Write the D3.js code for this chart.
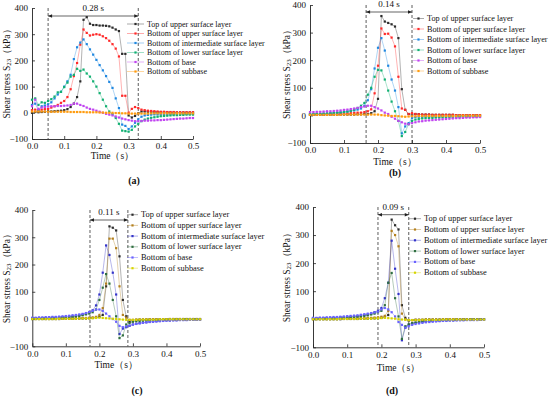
<!DOCTYPE html>
<html>
<head>
<meta charset="utf-8">
<script src="https://cdn.jsdelivr.net/npm/d3@7"></script>
<style>
  body { margin: 0; background: #fff; }
  svg { display: block; font-family: "Liberation Serif", "Times New Roman", serif; }
</style>
</head>
<body>
<svg width="550" height="398"></svg>
<script>
// time axis (s)
const times = [0.00,0.01,0.02,0.03,0.04,0.05,0.06,0.07,0.08,0.09,
  0.10,0.11,0.12,0.13,0.14,0.15,0.16,0.17,0.18,0.19,
  0.20,0.21,0.22,0.23,0.24,0.25,0.26,0.27,0.28,0.29,
  0.30,0.31,0.32,0.33,0.34,0.35,0.36,0.37,0.38,0.39,
  0.40,0.41,0.42,0.43,0.44,0.45,0.46,0.47,0.48,0.49,0.50];

const seriesNames = ["Top of upper surface layer", "Bottom of upper surface layer",
  "Bottom of intermediate surface layer", "Bottom of lower surface layer",
  "Bottom of base", "Bottom of subbase"];

const colorsAB = ["#2b2b2b", "#ff2a2a", "#2088e0", "#12b072", "#c044f0", "#ff9c10"];
const colorsCD = ["#2b2b2b", "#b4801e", "#3434c8", "#2f6e40", "#6a62ff", "#d6d400"];

const yTicks = [-100, 0, 100, 200, 300, 400];
const xTicks = [0, 0.1, 0.2, 0.3, 0.4, 0.5];

// panel (a)
const aTop = [0,3,2,3,4,5,5,6,7,8,10,14,22,35,60,120,355,365,340,335,335,333,333,332,330,325,318,312,225,225,-10,-18,-12,-2,5,5,4,3,3,2,2,2,2,1,1,1,1,1,1,1,1];
const aUpper = [10,12,10,12,14,15,20,25,30,38,45,60,90,140,190,260,318,305,295,298,300,298,292,285,275,262,245,215,65,65,0,15,22,18,12,10,8,7,6,5,4,4,3,3,3,2,2,2,2,2,2];
const aInter = [30,35,10,25,28,32,40,55,70,80,100,120,145,205,250,268,280,262,242,222,202,182,162,140,118,95,55,18,-45,-50,-62,-52,-38,-25,-15,-10,-8,-7,-6,-6,-5,-5,-5,-5,-5,-4,-4,-4,-4,-4,-4];
const aLower = [50,55,30,40,38,45,52,62,78,80,98,115,138,145,168,160,165,150,138,120,100,75,50,25,5,-5,-20,-42,-68,-70,-72,-65,-52,-42,-32,-26,-22,-19,-17,-15,-13,-12,-11,-10,-9,-9,-8,-8,-7,-7,-7];
const aBase = [25,50,15,20,22,24,25,25,26,26,27,28,30,35,35,30,26,20,15,12,8,4,0,-4,-7,-10,-14,-18,-22,-25,-28,-30,-32,-32,-31,-30,-30,-29,-29,-28,-28,-27,-26,-25,-24,-23,-22,-22,-21,-20,-20];
const aSub = [5,5,5,5,5,4,4,4,4,4,4,4,3,3,3,3,3,2,2,2,2,1,1,0,0,0,-1,-1,-2,-2,-3,-3,-3,-3,-3,-3,-3,-2,-2,-2,-2,-2,-2,-2,-2,-2,-2,-2,-2,-2,-2];
const aSpan = [0.05, 0.33];

// panel (b)
const bTop = [2,2,2,2,2,2,2,2,2,3,3,3,3,3,4,4,5,5,8,15,60,360,340,335,330,322,280,95,20,5,0,5,4,3,3,3,2,2,2,2,2,2,2,1,1,1,1,1,1,1,1];
const bUpper = [3,3,4,4,4,5,5,5,6,6,7,7,8,9,10,10,12,15,22,80,180,315,295,296,282,250,140,25,20,5,8,5,4,3,3,3,2,2,2,2,2,2,2,1,1,1,1,1,1,1,1];
const bInter = [5,5,6,6,7,7,8,9,10,11,12,14,16,18,21,25,35,55,95,170,245,280,235,180,130,90,30,-65,-40,-28,-10,-6,-5,-5,-4,-4,-4,-4,-3,-3,-3,-3,-3,-3,-3,-3,-3,-3,-3,-3,-3];
const bLower = [4,4,5,5,6,7,8,9,10,11,12,14,17,21,27,35,45,75,100,140,165,163,130,90,50,15,-20,-75,-60,-32,-20,-15,-13,-11,-10,-9,-9,-8,-8,-7,-7,-6,-6,-6,-5,-5,-5,-4,-4,-4,-4];
const bBase = [12,12,13,13,14,15,15,16,17,18,20,21,23,25,27,30,32,35,35,30,25,18,10,5,-5,-12,-20,-25,-30,-32,-28,-25,-22,-21,-19,-18,-17,-16,-15,-14,-13,-12,-11,-10,-10,-9,-8,-8,-7,-7,-6];
const bSub = [2,2,2,2,2,2,2,2,2,2,3,3,3,3,3,3,3,3,3,3,3,1,0,-1,-2,-2,-3,-4,-5,-4,-3,-3,-2,-2,-2,-2,-2,-2,-2,-2,-2,-2,-2,-2,-1,-1,-1,-1,-1,-1,-1];
const bSpan = [0.165, 0.30];

// panel (c)
const cTop = [0,0,0,0,0,0,0,0,0,1,1,1,1,1,2,2,2,3,4,5,8,15,120,340,335,325,230,70,10,-10,-5,-3,-2,-2,-2,-1,-1,-1,-1,-1,-1,0,0,0,0,0,0,0,0,0,0];
const cUpper = [1,1,1,1,1,1,1,2,2,2,2,2,3,3,3,4,4,5,6,8,15,40,130,295,295,260,120,15,5,-3,-3,-2,-2,-2,-1,-1,-1,-1,-1,-1,-1,0,0,0,0,0,0,0,0,0,0];
const cInter = [3,3,4,4,4,5,5,6,7,7,8,9,10,12,14,17,20,25,32,50,90,170,270,235,170,90,-55,-35,-30,-25,-20,-17,-15,-13,-12,-10,-9,-8,-7,-6,-5,-5,-4,-4,-3,-3,-3,-2,-2,-2,-2];
const cLower = [2,2,2,3,3,3,4,4,5,5,6,7,8,9,11,14,17,20,25,35,70,115,165,130,70,10,-70,-60,-20,-15,-10,-8,-7,-6,-5,-5,-4,-4,-3,-3,-3,-2,-2,-2,-2,-1,-1,-1,-1,-1,-1];
const cBase = [5,5,6,6,7,7,8,8,9,10,11,12,14,15,17,19,22,26,30,35,35,30,20,10,0,-10,-25,-30,-27,-24,-20,-18,-16,-14,-12,-11,-10,-9,-8,-7,-6,-6,-5,-5,-4,-4,-4,-3,-3,-3,-3];
const cSub = [0,0,0,0,0,0,0,0,1,1,1,1,1,1,2,2,2,2,3,4,5,4,3,2,1,0,-1,-2,-3,-3,-3,-3,-2,-2,-2,-2,-2,-2,-1,-1,-1,-1,-1,-1,-1,-1,-1,-1,-1,-1,-1];
const cSpan = [0.172, 0.285];

// panel (d)
const dTop = [0,0,0,0,0,0,0,0,0,1,1,1,1,1,2,2,2,3,3,4,5,8,15,355,335,320,50,5,-5,-3,-2,-2,-2,-1,-1,-1,-1,-1,0,0,0,0,0,0,0,0,0,0,0,0,0];
const dUpper = [1,1,1,1,1,1,2,2,2,2,2,3,3,3,4,4,5,5,6,7,9,12,30,315,300,260,20,0,-3,-3,-2,-2,-2,-1,-1,-1,-1,-1,-1,0,0,0,0,0,0,0,0,0,0,0,0];
const dInter = [3,3,4,4,4,5,5,6,7,7,8,9,10,11,13,15,17,20,25,30,40,75,130,280,180,90,-75,-30,-20,-15,-12,-10,-9,-8,-7,-6,-5,-5,-4,-4,-3,-3,-3,-2,-2,-2,-2,-1,-1,-1,-1];
const dLower = [2,2,2,3,3,3,4,4,5,5,6,7,8,9,10,12,14,17,20,25,30,50,130,165,75,10,-70,-25,-18,-14,-12,-10,-8,-7,-6,-5,-5,-4,-4,-3,-3,-3,-2,-2,-2,-2,-1,-1,-1,-1,-1];
const dBase = [5,5,6,6,7,7,8,8,9,10,11,12,13,14,16,18,20,22,24,27,35,40,35,25,10,-10,-20,-30,-25,-20,-17,-15,-13,-11,-10,-9,-8,-7,-6,-6,-5,-5,-4,-4,-4,-3,-3,-3,-3,-2,-2];
const dSub = [0,0,0,0,0,0,0,0,1,1,1,1,1,1,2,2,2,2,3,3,4,5,4,3,2,0,-1,-2,-3,-3,-3,-3,-2,-2,-2,-2,-2,-2,-1,-1,-1,-1,-1,-1,-1,-1,-1,-1,-1,-1,-1];
const dSpan = [0.19, 0.28];

let svg = d3.select("svg");

// layout of the four panels (pixel boxes)
var panels = [
  {tag: "(a)", series: [aTop, aUpper, aInter, aLower, aBase, aSub], colors: colorsAB,
   span: aSpan, spanText: "0.28 s", l: 32, r: 193, t: 8, b: 139,
   arrowY: 16, lgX: 127, lgW: 17, lgY: 24, lgDy: 9.5, lgFs: 8,
   yLabX: 7, tagX: 134, tagY: 180, timeY: 156},
  {tag: "(b)", series: [bTop, bUpper, bInter, bLower, bBase, bSub], colors: colorsAB,
   span: bSpan, spanText: "0.14 s", l: 310, r: 480, t: 5, b: 143,
   arrowY: 12, lgX: 413, lgW: 11, lgY: 18.5, lgDy: 10.5, lgFs: 8.2,
   yLabX: 287, tagX: 395, tagY: 172, timeY: 162},
  {tag: "(c)", series: [cTop, cUpper, cInter, cLower, cBase, cSub], colors: colorsCD,
   span: cSpan, spanText: "0.11 s", l: 32.3, r: 200, t: 210, b: 346.3,
   arrowY: 220, lgX: 127, lgW: 11, lgY: 214.7, lgDy: 10.7, lgFs: 8.4,
   yLabX: 7, tagX: 137, tagY: 390, timeY: 365},
  {tag: "(d)", series: [dTop, dUpper, dInter, dLower, dBase, dSub], colors: colorsCD,
   span: dSpan, spanText: "0.09 s", l: 313, r: 484, t: 207, b: 347.3,
   arrowY: 214.7, lgX: 409, lgW: 12, lgY: 218.7, lgDy: 10.8, lgFs: 8.4,
   yLabX: 287, tagX: 392, tagY: 390, timeY: 368}
];

panels.forEach(function(p){
  let g = svg.append("g");

  var x = d3.scaleLinear().domain([0, 0.5]).range([p.l, p.r]);
  var y = d3.scaleLinear().domain([-100, 400]).range([p.b, p.t]);

  // axes (inward ticks)
  let xAxis = g.append("g")
    .attr("transform", "translate(0," + p.b + ")")
    .call(d3.axisBottom(x).tickValues(xTicks).tickFormat(d3.format(".1f"))
      .tickSizeInner(-3).tickSizeOuter(0).tickPadding(4));
  let yAxis = g.append("g")
    .attr("transform", "translate(" + p.l + ",0)")
    .call(d3.axisLeft(y).tickValues(yTicks).tickSizeInner(-3).tickSizeOuter(0).tickPadding(4));
  [xAxis, yAxis].forEach(function(a){
    a.select(".domain").attr("stroke", "#222").attr("stroke-width", 0.9);
    a.selectAll(".tick line").attr("stroke", "#222").attr("stroke-width", 0.8);
    a.selectAll(".tick text").attr("fill", "#111")
      .style("font-family", "Liberation Serif").style("font-size", "9px");
  });

  // axis titles
  g.append("text")
    .attr("x", (p.l + p.r) / 2).attr("y", p.timeY)
    .attr("text-anchor", "middle").attr("dominant-baseline", "central")
    .style("font-size", "9.5px").attr("fill", "#111")
    .text("Time（s）");

  let yl = g.append("text")
    .attr("transform", "translate(" + p.yLabX + "," + ((p.t + p.b) / 2 - 2) + ") rotate(-90)")
    .attr("text-anchor", "middle").attr("dominant-baseline", "central")
    .style("font-size", "9.5px").attr("fill", "#111");
  yl.append("tspan").text("Shear stress S");
  yl.append("tspan").attr("dy", 2).style("font-size", "7px").text("23");
  yl.append("tspan").attr("dy", -2).text("（kPa）");

  // dashed time window
  p.span.forEach(function(s){
    g.append("line")
      .attr("x1", x(s)).attr("x2", x(s))
      .attr("y1", p.t).attr("y2", p.b)
      .attr("stroke", "#333").attr("stroke-width", 0.8)
      .attr("stroke-dasharray", "3,2");
  });

  // double arrow + label
  let x1 = x(p.span[0]), x2 = x(p.span[1]), ay = p.arrowY;
  g.append("line")
    .attr("x1", x1).attr("x2", x2).attr("y1", ay).attr("y2", ay)
    .attr("stroke", "#222").attr("stroke-width", 0.7);
  g.append("path")
    .attr("d", "M" + x1 + "," + ay + "l4,-1.8v3.6z M" + x2 + "," + ay + "l-4,-1.8v3.6z")
    .attr("fill", "#222");
  g.append("text")
    .attr("x", (x1 + x2) / 2).attr("y", ay - 5)
    .attr("text-anchor", "middle")
    .style("font-size", "9px").attr("fill", "#111")
    .text(p.spanText);

  // series lines and markers
  p.series.forEach(function(vals, i){
    var pts = vals.map(function(v, j){ return [times[j], v]; });
    var line = d3.line()
      .x(function(d){ return x(d[0]); })
      .y(function(d){ return y(d[1]); });
    g.append("path")
      .attr("d", line(pts))
      .attr("fill", "none")
      .attr("stroke", p.colors[i])
      .attr("stroke-opacity", 0.45)
      .attr("stroke-width", 0.8);
    g.selectAll(null)
      .data(pts)
      .join("rect")
        .attr("x", function(d){ return x(d[0]) - 1.1; })
        .attr("y", function(d){ return y(d[1]) - 1.1; })
        .attr("width", 2.2).attr("height", 2.2)
        .attr("fill", p.colors[i]);
  });

  // legend
  seriesNames.forEach(function(name, i){
    var ly = p.lgY + i * p.lgDy;
    g.append("line")
      .attr("x1", p.lgX).attr("x2", p.lgX + p.lgW)
      .attr("y1", ly).attr("y2", ly)
      .attr("stroke", p.colors[i]).attr("stroke-opacity", 0.5).attr("stroke-width", 0.8);
    g.append("rect")
      .attr("x", p.lgX + p.lgW / 2 - 1.1).attr("y", ly - 1.1)
      .attr("width", 2.2).attr("height", 2.2)
      .attr("fill", p.colors[i]);
    g.append("text")
      .attr("x", p.lgX + p.lgW + 3).attr("y", ly)
      .attr("dominant-baseline", "central")
      .style("font-size", p.lgFs + "px").attr("fill", "#111")
      .text(name);
  });

  // panel tag
  g.append("text")
    .attr("x", p.tagX).attr("y", p.tagY)
    .attr("text-anchor", "middle").attr("dominant-baseline", "central")
    .style("font-size", "10px").style("font-weight", "bold").attr("fill", "#111")
    .text(p.tag);
});
</script>
</body>
</html>
